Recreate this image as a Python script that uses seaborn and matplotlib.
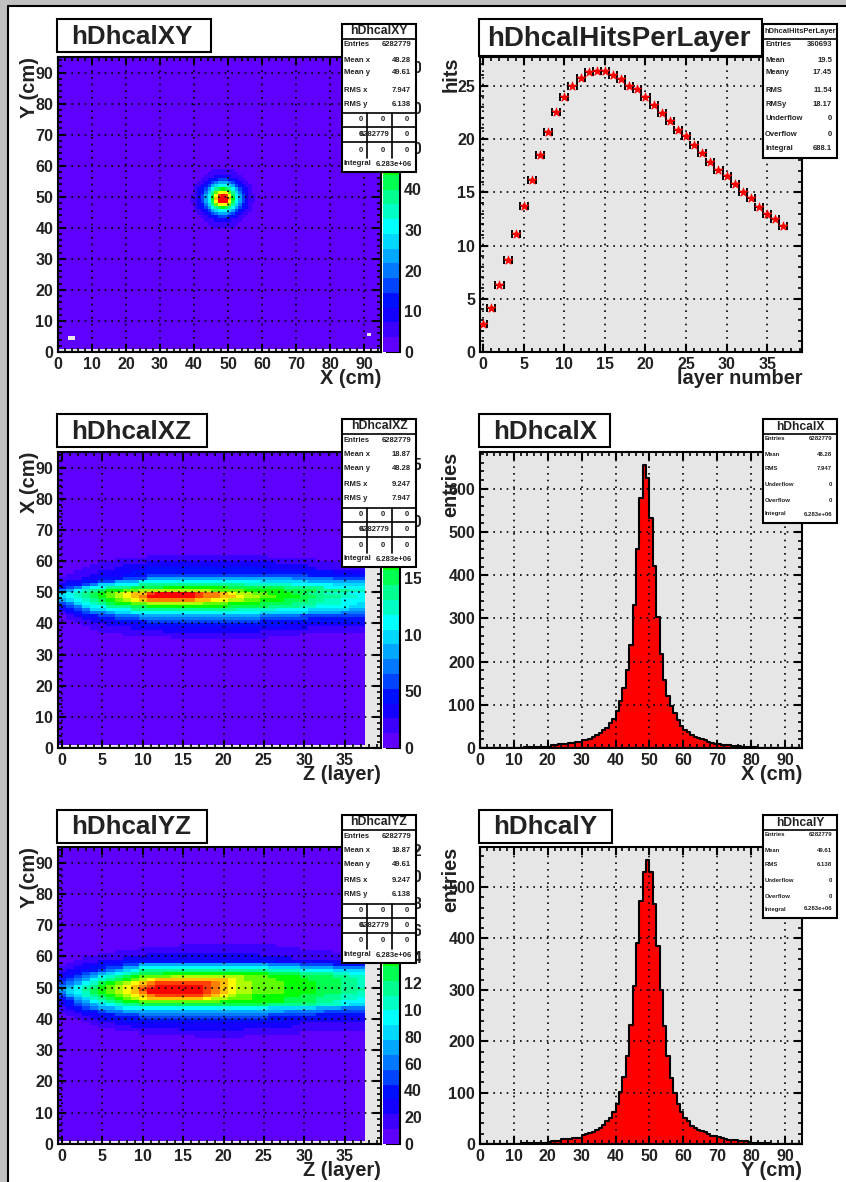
import numpy as np
import pandas as pd
import matplotlib
matplotlib.use('Agg')
import matplotlib.pyplot as plt
import seaborn as sns
from matplotlib.colors import ListedColormap
from matplotlib.patches import Rectangle
from matplotlib.lines import Line2D
from matplotlib.ticker import MultipleLocator
from matplotlib.transforms import Bbox

sns.set_style('ticks')
plt.rcParams['font.family'] = ['Liberation Sans', 'DejaVu Sans']
plt.rcParams['font.weight'] = 'bold'

W, H = 846, 1182

palette = ['#5f00ff', '#3c00ff', '#1400ff', '#0010ff', '#0044ff', '#0078ff', '#00a8ff', '#00d8ff',
           '#00ffff', '#00ffc4', '#00ff90', '#00ff50', '#00ff00', '#60ff00', '#b0ff00', '#ffff00',
           '#ffc000', '#ff8000', '#ff4000', '#ff0000']
level_chars = '0123456789abcdefghij'

# hits per layer
layers = list(range(38))
hits = [2.63, 4.13, 6.3, 8.66, 11.1, 13.7, 16.15, 18.5, 20.66, 22.5, 23.9, 25.0, 25.75, 26.3, 26.35, 26.35,
        26.0, 25.6, 25.0, 24.65, 23.9, 23.15, 22.45, 21.7, 20.85, 20.25, 19.4, 18.7, 17.8, 17.05, 16.5,
        15.75, 15.0, 14.45, 13.6, 13.0, 12.45, 11.85]

# 1 cm bins from 0 to 95
x_counts = [.5, .5, .5, .5, .5, .5, .5, .5, .5, .5, .5, .5, 1, 1.5, 1.5, 2, 2, 2.5, 2.5, 3, 3, 7, 8, 8.5, 9, 10, 11, 12,
            14, 15, 18, 19, 21.6, 25, 29, 35, 41, 46, 58, 68, 86, 108, 140, 181, 239, 332, 460, 578, 654, 625,
            532, 422, 303, 217, 158, 121, 98, 81, 64, 50, 42, 36, 31, 25, 22, 21, 18, 15, 12, 10, 9, 8, 7, 6,
            5.5, 4.5, 4, 3, 2, 2, 1.5, 1.5, 1, 1, 1, 1, .5, .5, .5, .5, .5, .5, .5, .5, .5]
y_counts = [.5, .5, .5, .5, .5, .5, .5, .5, .5, .5, .5, .5, 1, 1, 1, 1.5, 1.5, 2, 2, 2.5, 4.5, 5, 6, 6.5, 9, 9, 10, 11,
            12, 12, 17, 19, 21, 24, 27, 32, 37, 44, 51, 63, 78, 102, 130, 172, 232, 307, 391, 473, 530, 552,
            529, 467, 385, 300, 229, 172, 128, 99, 78, 62, 50, 44, 35, 31, 28, 26, 23, 19, 16, 15, 14, 11, 9,
            8.5, 8, 7, 6.5, 6, 5, 4, 2, 1.5, 1.5, 1, 1, 1, .5, .5, .5, .5, .5, .5, .5, .5, .5]

# colour level per cell, 0-9 then a-j, rows from top to bottom
xy_first_col = 39
xy_top_row = 58
xy_levels = ['0000001111111000000',
             '0000011111111100000',
             '0000111222221110000',
             '0001123344433211000',
             '00112345666543211' + '00',
             '0' + '11234678887643211' + '0',
             '0' + '12346' + '8abcba8' + '64321' + '0',
             '0' + '12357adfffda75321' + '0',
             '112468bfijifb864211',
             '112468cgjjjgc864211',
             '112468bfjjjfb864211',
             '0' + '12357adfffda75321' + '0',
             '0' + '12346' + '8abcba8' + '64321' + '0',
             '0' + '11234678887643211' + '0',
             '00112345666543211' + '00',
             '0001123344433211000',
             '0000111222221110000',
             '0000011111111100000',
             '0000001111111000000']
xy_holes = [(4, 3), (4, 4), (5, 91)]

xz_top_row = 61
xz_levels = ['00000000000111111111111111',
             '00000001111111111111111111111111',
             '00000111111' + '2222222222222222' + '11111111111',
             '00001111' + '22222222222222222222222' + '1111111',
             '0001111' + '2222' + '333333333333333' + '222222' + '111111',
             '00111' + '2222' + '3333333333333333333333333' + '2222',
             '0111' + '2222' + '333' + '44444444444444444444' + '3333333',
             '11122333444' + '666666666666666666' + '55555' + '4444',
             '1223344666' + '888888888888888' + '777777' + '6666666',
             '23345778' + '88' + 'aaaaaaaaaaaaa' + '999999' + '88888' + '7777',
             '3457' + '88aaabbbb' + 'cccccccc' + 'bbbbbbb' + 'aaaaa' + '88888',
             '5689abccdd' + 'eeeeeeeee' + 'dddd' + 'ccccc' + 'bbbb' + 'aaaa' + '99',
             '789abcdefggijjjjjihhgfeeddcccbbaa99988',
             '789abcdefghjjjjjjihhggfeeddcccbbaaa998',
             '6789abcdefghhhhhhggffeeddcccbbbaa99888',
             '4578' + '9abccddeeeeeeedddccccbbbbaaa99988' + '7',
             '345788aaabbccccccccccbbbbbaaaa99888877',
             '234577' + '888' + 'aaaaaaaaaaaaa' + '99999' + '8888' + '77777' + '66',
             '1234556778' + '888888888888888' + '777777' + '6666' + '5555',
             '0123344555' + '666666666666666' + '55555' + '44444444',
             '0112233444' + '555555555555555' + '444444' + '3333333',
             '00112223333' + '44444444444444' + '3333333333333',
             '0001112222' + '333333333333333333' + '2222222222',
             '000011111' + '2222222222222222222222' + '1111111',
             '00000' + '11111111' + '222222222222' + '1111111111111',
             '00000000' + '1111111111111111111111',
             '00000000000000' + '111111111111']

yz_top_row = 63
yz_levels = ['000000000000000111111111111',
             '000000000011111111111111111111',
             '0000000111111111111111111111111111',
             '00000111111' + '22222222222222' + '1111111111111',
             '00011111' + '222222222222222222222' + '111111111',
             '00111222' + '3333333333333333333' + '22222222222',
             '0112233344' + '6666666666666666' + '5555' + '4444' + '3333',
             '1122334466' + '8888888888888888' + '7777' + '6666' + '5555',
             '1223345678' + 'aaaaaaaaaaaaaaaa' + '9999' + '8888' + '7777',
             '223456789a' + 'bbbccccccccccccc' + 'bbbb' + 'aaaa' + '9988',
             '234568' + '9abc' + 'dddd' + 'eeeeeeeee' + 'ddd' + 'cccc' + 'bbbb' + 'aa99',
             '3456' + '89abcd' + 'ef' + 'ggggggggg' + 'fe' + 'dddd' + 'cccc' + 'bbbb' + 'aa9',
             '4568' + '9bcdef' + 'gh' + 'iiiiiii' + 'hgf' + 'ee' + 'dddd' + 'cccc' + 'bbb' + 'aa9',
             '5689' + 'acdefg' + 'hi' + 'jjjjjj' + 'ihgf' + 'ee' + 'dddd' + 'cccc' + 'bbb' + 'aa9',
             '678a' + 'bcdefg' + 'i' + 'jjjjjjj' + 'ihgf' + 'ee' + 'dddd' + 'cccc' + 'bbb' + 'aaa',
             '5789' + 'bcdefg' + 'h' + 'jjjjjjj' + 'ihgf' + 'ee' + 'dddd' + 'cccc' + 'bbb' + 'aa9',
             '4679' + 'abcdef' + 'gh' + 'iiiiii' + 'hgfe' + 'dd' + 'cccc' + 'ccbb' + 'baa' + '999',
             '3467' + '9abcde' + 'fg' + 'gggggg' + 'feed' + 'dd' + 'cccc' + 'bbbb' + 'aaa' + '998',
             '2356' + '89abcc' + 'dddddddddd' + 'cccccccc' + 'bbbb' + 'aa9' + '888',
             '234567' + '89aa' + 'bbbbbbbbbbbbbbbb' + 'aaaaaa' + '999' + '877',
             '1234566788' + '8888888888888888' + '777777' + '666' + '555',
             '1123345566' + '666666666666666666' + '55555' + '44444',
             '0112233444' + '5555555555555555' + '444444' + '333333',
             '0011223333' + '4444444444444444' + '33333333' + '2222',
             '0001122233' + '333333333333333333' + '2222222222',
             '0000111222' + '22222222222222222222' + '11111111',
             '00000' + '1111' + '22222222222222222222' + '111111111',
             '0000000' + '11111111' + '22222222' + '111111111111111',
             '0000000000' + '11111111111111111111',
             '00000000000000000' + '111111']

xy_ticks = [0, 10000, 20000, 30000, 40000, 50000, 60000, 70000]
xz_ticks = [0, 5000, 10000, 15000, 20000, 25000]
yz_ticks = [0, 2000, 4000, 6000, 8000, 10000, 12000, 14000, 16000, 18000, 20000, 22000]
xy_max, xz_max, yz_max = 72400, 26100, 22200

xy_stats = [('Entries', '6282779'), ('Mean x', '48.28'), ('Mean y', '49.61'), ('RMS x', '7.947'), ('RMS y', '6.138')]
xz_stats = [('Entries', '6282779'), ('Mean x', '18.87'), ('Mean y', '48.28'), ('RMS x', '9.247'), ('RMS y', '7.947')]
yz_stats = [('Entries', '6282779'), ('Mean x', '18.87'), ('Mean y', '49.61'), ('RMS x', '9.247'), ('RMS y', '6.138')]
hits_stats = [('Entries', '360693'), ('Mean', '19.5'), ('Meany', '17.45'), ('RMS', '11.54'), ('RMSy', '18.17'),
              ('Underflow', '0'), ('Overflow', '0'), ('Integral', '688.1')]
x_stats = [('Entries', '6282779'), ('Mean', '48.28'), ('RMS', '7.947'), ('Underflow', '0'), ('Overflow', '0'),
           ('Integral', '6.283e+06')]
y_stats = [('Entries', '6282779'), ('Mean', '49.61'), ('RMS', '6.138'), ('Underflow', '0'), ('Overflow', '0'),
           ('Integral', '6.283e+06')]

fig = plt.figure(figsize=(W / 100, H / 100), dpi=100, facecolor='white')
cmap = ListedColormap(palette)
LW = 1.5


def px_axes(x0, y0, x1, y1):
    return fig.add_axes([x0 / W, 1 - y1 / H, (x1 - x0) / W, (y1 - y0) / H])


def fx(x):
    return x / W


def fy(y):
    return 1 - y / H


def box(x0, y0, x1, y1, lw=1.5):
    fig.add_artist(Rectangle((fx(x0), fy(y1)), (x1 - x0) / W, (y1 - y0) / H, transform=fig.transFigure,
                             facecolor='white', edgecolor='black', linewidth=lw, zorder=10))


def line(x0, y0, x1, y1, lw=1.2):
    fig.add_artist(Line2D([fx(x0), fx(x1)], [fy(y0), fy(y1)], color='black', linewidth=lw, zorder=11))


def label(x, y, s, size, ha='left'):
    fig.text(fx(x), fy(y), s, fontsize=size, ha=ha, va='center', color='#222222', zorder=12)


def title_box(x0, y0, x1, y1, s, size, pad=14):
    box(x0, y0, x1, y1)
    label(x0 + pad, (y0 + y1) / 2 + 1, s, size)


def stats_box(x0, y0, x1, y1, title, title_size, head, rows, row_y, size):
    box(x0, y0, x1, y1)
    line(x0, y0 + head, x1, y0 + head)
    fig.text(fx((x0 + x1) / 2), fy(y0 + head / 2), title, fontsize=title_size, ha='center', va='center',
             color='#222222', zorder=12)
    for (name, val), dy in zip(rows, row_y):
        label(x0 + 2, y0 + dy, name, size)
        label(x1 - 5, y0 + dy, val, size, ha='right')


def stats_2d(x0, y0, title, rows):
    stats_box(x0, y0, x0 + 74, y0 + 148, title, 8.8, 14.5, rows, [21, 36, 49, 66, 80], 5.5)
    for dy in [89.3, 103.3, 118.3]:
        line(x0, y0 + dy, x0 + 74, y0 + dy)
    for dx in [24.7, 49.7]:
        line(x0 + dx, y0 + 89.3, x0 + dx, y0 + 134.3)
    cells = [('0', '0', '0'), ('0', '', '0'), ('0', '0', '0')]
    for row, dy in zip(cells, [95.3, 110.7, 126]):
        for s, dx in zip(row, [19, 41, 65]):
            label(x0 + dx, y0 + dy, s, 5.5, ha='center')
    label(x0 + 33, y0 + 110.7, '6282779', 5.5, ha='center')
    label(x0 + 2, y0 + 139.3, 'Integral', 5.5)
    label(x0 + 70, y0 + 140.5, '6.283e+06', 5.5, ha='right')


def style_axes(ax, xminor, yminor, xmajor=None, ymajor=None):
    for sp in ax.spines.values():
        sp.set_visible(True)
        sp.set_linewidth(LW)
        sp.set_color('black')
    if xmajor is not None:
        ax.xaxis.set_major_locator(MultipleLocator(xmajor))
    if ymajor is not None:
        ax.yaxis.set_major_locator(MultipleLocator(ymajor))
    ax.xaxis.set_minor_locator(MultipleLocator(xminor))
    ax.yaxis.set_minor_locator(MultipleLocator(yminor))
    ax.tick_params(which='major', direction='in', top=True, right=True, bottom=True, left=True, length=6, width=1.5,
                   labelsize=11.6, pad=3.5, color='black', labelcolor='#222222')
    ax.tick_params(which='minor', direction='in', top=True, right=True, bottom=True, left=True, length=3, width=1.2,
                   color='black')
    ax.set_axisbelow(False)
    ax.grid(True, which='major', color='black', linestyle=(0, (1, 3)), linewidth=1.2)


def axis_labels(ax, xl, yl):
    ax.set_xlabel(xl, loc='right', fontsize=14.4, fontweight='bold', color='#222222')
    ax.set_ylabel(yl, loc='top', fontsize=14.4, fontweight='bold', color='#222222')
    ax.xaxis.set_label_coords(1.0, -0.057)
    ax.yaxis.set_label_coords(-0.06, 1.0)


def fill_table(shape, table, top_row, first_col):
    cells = np.zeros(shape, dtype=int)
    for i, row in enumerate(table):
        for j, ch in enumerate(row):
            if first_col + j < shape[1]:
                cells[top_row - i, first_col + j] = level_chars.index(ch)
    return cells


def heat_panel(x0, y0, x1, y1, cells, vmax, ticks, holes, layer_axis):
    ax = px_axes(x0, y0, x1, y1)
    cax = px_axes(383, y0, 400, y1)
    values = (cells + 0.5) / 20 * vmax
    mask = np.zeros(cells.shape, dtype=bool)
    mask[0, :] = True
    for r, c in holes:
        mask[r, c] = True
    sns.heatmap(values, ax=ax, cbar_ax=cax, cmap=cmap, vmin=0, vmax=vmax, mask=mask, xticklabels=False,
                yticklabels=False, cbar_kws={'ticks': ticks})
    ax.set_facecolor('#e6e6e6')
    ax.set_ylim(0, 95)
    if layer_axis:
        ax.set_xlim(0, 40)
        style_axes(ax, 1, 2, None, 10)
        ax.set_xticks(np.arange(0, 40, 5) + 0.5, [str(v) for v in range(0, 40, 5)])
        ax.xaxis.set_minor_locator(MultipleLocator(1, offset=0.5))
    else:
        ax.set_xlim(0, 95)
        style_axes(ax, 2, 2, 10, 10)
        ax.set_xticks(range(0, 91, 10), [str(v) for v in range(0, 91, 10)])
    ax.set_yticks(range(0, 91, 10), [str(v) for v in range(0, 91, 10)])

    cax.set_yticks(ticks, [str(t) for t in ticks])
    cax.tick_params(which='both', direction='in', left=False, right=True, length=10, width=1.5, pad=3, labelsize=11.6,
                    labelcolor='#222222', color='black')
    cax.spines['right'].set_visible(True)
    cax.spines['right'].set_linewidth(LW)
    cax.spines['right'].set_color('black')
    # only the first digits of the palette labels fit on the pad
    clip = Bbox.from_extents(0, 0, 420.5, H)
    for tick in cax.yaxis.get_major_ticks():
        tick.label2.set_clip_on(True)
        tick.label2.set_clip_box(clip)
    return ax


def hist_panel(x0, y0, x1, y1, counts, ymax, xl):
    ax = px_axes(x0, y0, x1, y1)
    ax.set_facecolor('#e6e6e6')
    df = pd.DataFrame({'pos': np.arange(len(counts)) + 0.5, 'count': counts})
    sns.histplot(data=df, x='pos', weights='count', binwidth=1, binrange=(0, len(counts)), element='step', fill=True,
                 color='#ff0000', alpha=1, edgecolor='black', linewidth=1.5, ax=ax)
    ax.set_xlim(0, 95)
    ax.set_ylim(0, ymax)
    style_axes(ax, 2, 20, 10, 100)
    axis_labels(ax, xl, 'entries')
    return ax


# page frame
fig.add_artist(Rectangle((0, fy(5)), 1, 5 / H, transform=fig.transFigure, facecolor='#c0c0c0', edgecolor='none', zorder=1))
fig.add_artist(Rectangle((0, 0), 7 / W, 1, transform=fig.transFigure, facecolor='#c0c0c0', edgecolor='none', zorder=1))
line(7.5, 6, W, 6, lw=1.5)
line(8, 6, 8, H, lw=1.5)

# left column
ax1 = heat_panel(58, 57, 381, 352, fill_table((95, 95), xy_levels, xy_top_row, xy_first_col), xy_max, xy_ticks,
                 xy_holes, False)
axis_labels(ax1, 'X (cm)', 'Y (cm)')
ax3 = heat_panel(58, 452, 381, 748, fill_table((95, 38), xz_levels, xz_top_row, 0), xz_max, xz_ticks, [], True)
axis_labels(ax3, 'Z (layer)', 'X (cm)')
ax5 = heat_panel(58, 847, 381, 1144, fill_table((95, 38), yz_levels, yz_top_row, 0), yz_max, yz_ticks, [], True)
axis_labels(ax5, 'Z (layer)', 'Y (cm)')

# hits per layer
ax2 = px_axes(480, 57, 802, 352)
ax2.set_facecolor('#e6e6e6')
ax2.errorbar(layers, hits, xerr=0.5, fmt='none', ecolor='black', elinewidth=1.4, capsize=3, capthick=1.4, zorder=3)
sns.scatterplot(x=layers, y=hits, marker='*', s=45, color='#ff0000', edgecolor='#ff0000', linewidth=0.5, ax=ax2,
                zorder=4)
ax2.set_xlim(-0.4, 39.3)
ax2.set_ylim(0, 27.7)
style_axes(ax2, 1, 1, 5, 5)
axis_labels(ax2, 'layer number', 'hits')

hist_panel(480, 452, 802, 748, x_counts, 685, 'X (cm)')
hist_panel(480, 847, 802, 1144, y_counts, 578, 'Y (cm)')

# title boxes
title_box(57, 19, 211, 52, 'hDhcalXY', 18.7)
title_box(479, 19, 762, 56, 'hDhcalHitsPerLayer', 20, pad=8)
title_box(57, 414, 207, 447, 'hDhcalXZ', 18.7)
title_box(479, 414, 610, 447, 'hDhcalX', 18.7)
title_box(57, 810, 207, 843, 'hDhcalYZ', 18.7)
title_box(479, 810, 612, 843, 'hDhcalY', 18.7)

# stat boxes
stats_2d(342, 24, 'hDhcalXY', xy_stats)
stats_2d(342, 419, 'hDhcalXZ', xz_stats)
stats_2d(342, 815, 'hDhcalYZ', yz_stats)
stats_box(763, 24, 837, 158, 'hDhcalHitsPerLayer', 5.4, 15, hits_stats, [21, 36, 49, 66, 80, 95, 111, 125], 5.5)
stats_box(763, 419, 837, 523, 'hDhcalX', 8.7, 15, x_stats, [20, 36, 49, 65, 81, 95], 4.3)
stats_box(763, 815, 837, 918, 'hDhcalY', 8.7, 15, y_stats, [20, 36, 50, 65, 81, 94], 4.3)

fig.savefig('out.png', dpi=100)
